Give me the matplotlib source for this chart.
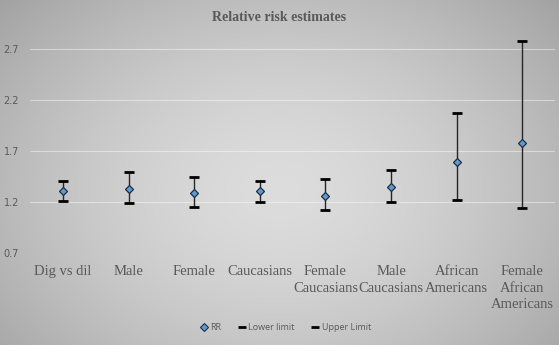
import numpy as np
import matplotlib
matplotlib.use("Agg")
import matplotlib.pyplot as plt
from matplotlib.lines import Line2D

categories = ["Dig vs dil", "Male", "Female", "Caucasians", "Female\nCaucasians",
              "Male\nCaucasians", "African\nAmericans", "Female\nAfrican\nAmericans"]
rr = [1.31, 1.325, 1.285, 1.31, 1.26, 1.345, 1.59, 1.775]
lower = [1.21, 1.19, 1.155, 1.20, 1.12, 1.20, 1.22, 1.145]
upper = [1.41, 1.49, 1.44, 1.41, 1.42, 1.51, 2.07, 2.78]
yticks = [0.7, 1.2, 1.7, 2.2, 2.7]

fig = plt.figure(figsize=(5.59, 3.45), dpi=100)

# radial gradient background
bg = fig.add_axes([0, 0, 1, 1], zorder=-10)
h, w = 345, 559
yy, xx = np.mgrid[0:h, 0:w]
r = np.sqrt(((xx - w * 0.5) / (w * 0.62)) ** 2 + ((yy - h * 0.55) / (h * 0.75)) ** 2)
val = 0.865 - 0.20 * np.clip(r, 0, 1.3) ** 1.6
img = np.dstack([val, val, val])
bg.imshow(img, aspect="auto", extent=[0, 1, 0, 1])
bg.axis("off")

ax = fig.add_axes([0.054, 0.267, 0.939, 0.65])
ax.patch.set_alpha(0)
x = np.arange(len(categories))
ax.vlines(x, lower, upper, color="#262626", lw=1.0, zorder=2)
ax.plot(x, lower, ls="none", marker="_", ms=7, mew=2.0, color="black", zorder=3)
ax.plot(x, upper, ls="none", marker="_", ms=7, mew=2.0, color="black", zorder=3)
ax.plot(x, rr, ls="none", marker="D", ms=4.5, mfc="#5b9bd5", mec="#1f2f40", mew=0.9, zorder=4)

ax.set_xlim(-0.5, len(categories) - 0.5)
ax.set_ylim(0.7, 2.9)
ax.set_yticks(yticks)
ax.set_yticklabels([f"{v:.1f}" for v in yticks], fontsize=7, color="#595959",
                   family="DejaVu Sans")
ax.set_xticks(x)
ax.set_xticklabels(categories, fontsize=10.5, color="#595959",
                   family="Liberation Serif", linespacing=1.35, va="top")
ax.tick_params(length=0, axis="both")
ax.tick_params(axis="x", pad=9)
ax.tick_params(axis="y", pad=8)
ax.grid(axis="y", color="white", lw=0.8, alpha=0.45)
for s in ax.spines.values():
    s.set_visible(False)

fig.text(0.5, 0.948, "Relative risk estimates", ha="center", va="center",
         fontsize=10, fontweight="bold", color="#595959", family="Liberation Serif")

handles = [
    Line2D([], [], ls="none", marker="D", ms=4, mfc="#5b9bd5", mec="#1f2f40", mew=0.8),
    Line2D([], [], ls="none", marker="_", ms=6, mew=2, color="black"),
    Line2D([], [], ls="none", marker="_", ms=6, mew=2, color="black"),
]
fig.legend(handles, ["RR", "Lower limit", "Upper Limit"], loc="center",
           bbox_to_anchor=(0.51, 0.05), ncol=3, frameon=False,
           prop={"family": "Open Sans", "size": 6.5}, labelcolor="#595959",
           handletextpad=0.2, columnspacing=1.8, handlelength=1.0)

fig.savefig("out.png", dpi=100)
